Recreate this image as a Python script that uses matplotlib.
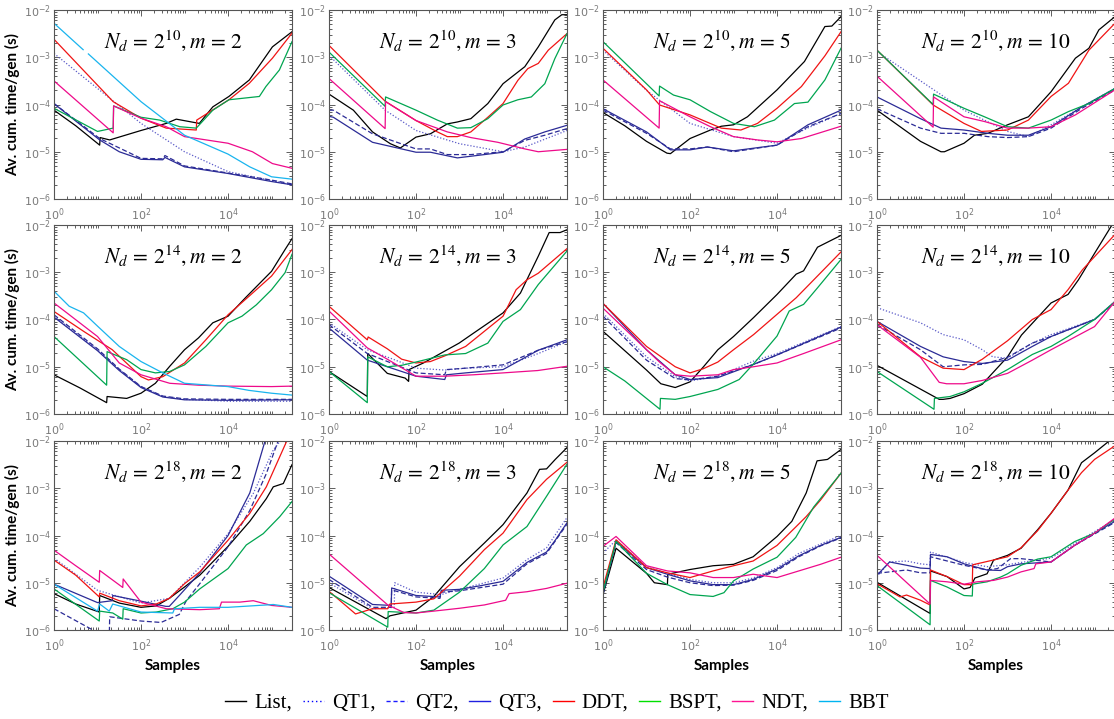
import numpy as np
import matplotlib
matplotlib.use("Agg")
import matplotlib.pyplot as plt
from matplotlib.ticker import LogLocator, NullFormatter, FixedLocator
from matplotlib.lines import Line2D

# ---------------- data (log10 of samples, log10 of seconds) ----------------
SERIES = ["List", "QT1", "QT2", "QT3", "DDT", "BSPT", "NDT", "BBT"]
ND_EXP = [10, 14, 18]
M_VALS = [2, 3, 5, 10]
nan = float("nan")

N10_M2 = {
    "List": ([0, 0.5, 1.05, 1.06, 1.28, 2, 2.58, 2.81, 3.34, 3.65, 4.02, 4.49, 5.02, 5.47],
             [-4.12, -4.45, -4.86, -4.70, -4.75, -4.55, -4.4, -4.31, -4.4, -4.05, -3.83, -3.48, -2.78, -2.46]),
    "QT1": ([0, 1, 2, 3, 4, 5.47], [-2.92, -3.66, -4.4, -5.0, -5.42, -5.7]),
    "QT2": ([0, 1.05, 2, 2.5, 2.55, 3, 4, 5, 5.47], [-3.98, -4.72, -5.14, -5.15, -5.08, -5.3, -5.45, -5.6, -5.68]),
    "QT3": ([0, 0.5, 1.05, 1.5, 2, 2.5, 2.55, 3, 4, 5, 5.47],
            [-3.98, -4.35, -4.75, -5.0, -5.16, -5.17, -5.12, -5.32, -5.46, -5.63, -5.7]),
    "DDT": ([0, 1.36, 2, 2.58, 3.27, 3.28, 4.02, 4.49, 5.02, 5.47],
            [-2.62, -3.94, -4.29, -4.5, -4.54, -4.33, -3.9, -3.55, -3.02, -2.49]),
    "BSPT": ([0, 1.0, 1.36, 1.37, 2, 2.43, 2.89, 3.27, 3.65, 4.02, 4.72, 4.87, 5.18, 5.47],
             [-4.08, -4.57, -4.5, -4.03, -4.27, -4.33, -4.47, -4.5, -4.12, -3.9, -3.83, -3.62, -3.27, -2.67]),
    "NDT": ([0, 1.36, 1.37, 2, 2.58, 3, 4, 4.56, 5.02, 5.47],
            [-3.5, -4.6, -4.03, -4.29, -4.47, -4.68, -4.82, -5.0, -5.25, -5.35]),
    "BBT": ([0, 0.67, 0.73, 0.79, 2, 3, 4, 4.5, 5, 5.47],
            [-2.28, -2.84, nan, -2.93, -3.94, -4.65, -5.05, -5.32, -5.53, -5.58]),
}

N10_M3 = {
    "List": ([0, 0.56, 1.0, 1.41, 1.64, 2, 2.33, 2.72, 2.95, 3.26, 3.65, 4.0, 4.5, 4.81, 5.19, 5.35, 5.47],
             [-3.78, -4.12, -4.58, -4.83, -4.92, -4.69, -4.62, -4.41, -4.37, -4.3, -3.98, -3.56, -3.2, -2.78, -2.21, -2.1, -2.1]),
    "QT1": ([0, 1.29, 2, 3, 4, 4.5, 5.47], [-2.96, -4.12, -4.55, -4.83, -5.0, -4.9, -4.55]),
    "QT2": ([0, 0.1, 1, 2, 2.33, 2.72, 3.26, 4, 4.5, 4.96, 5.47],
            [-4.12, -4.12, -4.62, -4.94, -4.94, -5.06, -5.06, -5.0, -4.76, -4.65, -4.51]),
    "QT3": ([0, 0.1, 1, 2, 2.33, 2.95, 3.57, 4, 4.5, 4.96, 5.47],
            [-4.25, -4.27, -4.8, -5.01, -5.01, -5.13, -5.06, -5.01, -4.73, -4.58, -4.44]),
    "DDT": ([0, 1.29, 2, 2.49, 2.72, 2.95, 3.26, 3.65, 4.0, 4.34, 4.57, 4.81, 5.04, 5.47],
            [-2.75, -3.93, -4.34, -4.58, -4.68, -4.68, -4.58, -4.27, -3.98, -3.49, -3.24, -3.13, -2.85, -2.5]),
    "BSPT": ([0, 1.29, 1.30, 2, 2.49, 2.95, 3.26, 3.65, 4.0, 4.34, 4.65, 4.96, 5.19, 5.47],
             [-2.89, -4.04, -3.84, -4.12, -4.33, -4.5, -4.49, -4.3, -4.01, -3.9, -3.84, -3.56, -3.03, -2.5]),
    "NDT": ([0, 1.29, 1.30, 2, 2.72, 3.26, 3.88, 4.5, 4.81, 5.47],
            [-3.45, -4.51, -3.94, -4.34, -4.58, -4.7, -4.8, -4.94, -5.0, -4.95]),
}

N10_M5 = {
    "List": ([0, 0.5, 1, 1.47, 1.55, 2, 2.47, 2.72, 3, 3.32, 4.0, 4.63, 5.1, 5.26, 5.47],
             [-4.17, -4.45, -4.78, -5.03, -5.04, -4.72, -4.54, -4.46, -4.43, -4.26, -3.69, -3.09, -2.35, -2.34, -2.14]),
    "QT1": ([0, 1, 2, 3, 4, 4.7, 5.47], [-2.85, -3.7, -4.4, -4.68, -4.82, -4.5, -4.19]),
    "QT2": ([0, 1, 1.55, 2, 2.4, 3, 4, 4.71, 5.47], [-4.12, -4.61, -4.94, -4.94, -4.9, -5.0, -4.86, -4.47, -4.19]),
    "QT3": ([0, 1, 1.55, 2, 2.4, 3, 4, 4.71, 5.47], [-4.09, -4.58, -4.96, -4.96, -4.9, -4.98, -4.86, -4.43, -4.12]),
    "DDT": ([0, 1, 1.3, 2, 2.72, 3.17, 3.55, 4.0, 4.56, 5.1, 5.47],
            [-2.81, -3.69, -4.01, -4.22, -4.5, -4.54, -4.4, -4.08, -3.62, -2.97, -2.46]),
    "BSPT": ([0, 1.29, 1.30, 1.62, 2, 2.47, 3, 3.48, 3.94, 4.4, 4.71, 5.1, 5.47],
             [-2.67, -3.82, -3.61, -3.8, -3.9, -4.15, -4.4, -4.47, -4.33, -3.98, -3.95, -3.48, -2.81]),
    "NDT": ([0, 1.29, 1.30, 2, 2.47, 3, 3.55, 4.0, 4.56, 5.47],
            [-3.48, -4.5, -3.92, -4.26, -4.47, -4.68, -4.75, -4.79, -4.72, -4.46]),
}

N10_M10 = {
    "List": ([0, 0.5, 1, 1.47, 1.55, 2, 2.24, 2.55, 3, 3.48, 4.0, 4.56, 4.87, 5.1, 5.47],
             [-4.12, -4.45, -4.78, -5.0, -5.0, -4.82, -4.65, -4.61, -4.43, -4.26, -3.73, -3.02, -2.81, -2.42, -2.14]),
    "QT1": ([0, 2, 3, 3.48, 4, 4.71, 5.47], [-2.88, -4.12, -4.57, -4.68, -4.43, -4.05, -3.66]),
    "QT2": ([0, 1, 1.47, 2, 2.55, 3, 3.48, 4, 4.71, 5.47],
            [-4.09, -4.5, -4.61, -4.61, -4.68, -4.7, -4.68, -4.5, -4.08, -3.69]),
    "QT3": ([0, 1, 1.47, 2, 2.55, 3, 3.48, 4, 4.71, 5.47],
            [-3.84, -4.3, -4.5, -4.54, -4.61, -4.65, -4.65, -4.47, -4.05, -3.66]),
    "DDT": ([0, 1.29, 2, 2.4, 3, 3.48, 4.0, 4.4, 4.87, 5.47],
            [-2.85, -4.01, -4.4, -4.57, -4.54, -4.33, -3.83, -3.55, -2.85, -2.28]),
    "BSPT": ([0, 1.29, 1.30, 2, 2.47, 3, 3.48, 4, 4.4, 4.87, 5.47],
             [-2.85, -4.0, -3.78, -4.08, -4.26, -4.47, -4.5, -4.33, -4.15, -3.98, -3.66]),
    "NDT": ([0, 1.29, 1.30, 2, 2.47, 3, 3.48, 4, 4.56, 5.47],
            [-3.4, -4.48, -3.84, -4.26, -4.36, -4.5, -4.5, -4.47, -4.22, -3.69]),
}

N14_M2 = {
    "List": ([0, 0.6, 1.21, 1.22, 1.67, 2, 2.33, 2.66, 3.0, 3.32, 3.65, 4.0, 4.4, 5.0, 5.31, 5.47],
             [-5.17, -5.45, -5.76, -5.63, -5.67, -5.56, -5.35, -4.99, -4.64, -4.39, -4.07, -3.93, -3.54, -2.98, -2.52, -2.29]),
    "QT1": ([0, 1, 1.5, 2, 2.5, 3, 4, 5.47], [-3.93, -4.64, -5.06, -5.42, -5.63, -5.69, -5.73, -5.73]),
    "QT2": ([0, 1, 1.5, 2, 2.5, 3, 4, 5.47], [-3.9, -4.62, -5.05, -5.42, -5.62, -5.68, -5.69, -5.69]),
    "QT3": ([0, 1, 1.5, 2, 2.5, 3, 4, 5.47], [-3.95, -4.66, -5.08, -5.44, -5.64, -5.7, -5.71, -5.7]),
    "DDT": ([0, 0.68, 1.34, 2, 2.17, 2.5, 3, 3.49, 4.0, 4.48, 5.0, 5.47],
            [-3.83, -4.25, -4.64, -5.21, -5.28, -5.21, -4.92, -4.43, -3.9, -3.51, -3.08, -2.52]),
    "BSPT": ([0, 1.21, 1.22, 1.67, 2, 2.33, 2.66, 3, 3.49, 4, 4.32, 4.65, 5.0, 5.31, 5.47],
             [-4.36, -5.39, -4.68, -4.85, -5.06, -5.13, -5.1, -4.96, -4.57, -4.07, -3.93, -3.69, -3.37, -3.01, -2.62]),
    "NDT": ([0, 1, 1.5, 2, 2.66, 3.32, 4, 5, 5.47], [-3.65, -4.36, -4.92, -5.17, -5.35, -5.39, -5.41, -5.42, -5.41]),
    "BBT": ([0, 0.35, 0.68, 1, 1.5, 2, 2.5, 3, 4, 4.48, 5, 5.47],
            [-3.4, -3.72, -3.86, -4.14, -4.57, -4.89, -5.13, -5.35, -5.42, -5.5, -5.56, -5.6]),
}

N14_M3 = {
    "List": ([0, 0.88, 0.89, 1.34, 1.75, 1.83, 1.84, 2.17, 2.58, 2.99, 3.32, 4.0, 4.4, 4.81, 5.06, 5.31, 5.47],
             [-5.1, -5.63, -4.72, -5.14, -5.24, -5.31, -5.06, -4.92, -4.71, -4.5, -4.29, -3.86, -3.44, -2.66, -2.16, -2.16, -2.1]),
    "QT1": ([0, 0.88, 1.5, 2, 2.66, 3.14, 4, 4.81, 5.47], [-4.07, -4.64, -4.85, -5.03, -5.07, -5.03, -5.0, -4.72, -4.47]),
    "QT2": ([0, 0.88, 2, 2.66, 2.7, 3.14, 4, 4.81, 5.47], [-4.11, -4.72, -5.13, -5.17, -5.06, -5.03, -4.96, -4.65, -4.47]),
    "QT3": ([0, 0.88, 2, 2.66, 2.7, 3.14, 4, 4.81, 5.47], [-4.18, -4.86, -5.2, -5.27, -5.17, -5.13, -5.06, -4.65, -4.43]),
    "DDT": ([0, 0.88, 0.9, 1.34, 1.67, 2, 2.33, 2.66, 3.14, 4, 4.3, 4.55, 4.81, 5.47],
            [-3.72, -4.43, -4.37, -4.62, -4.84, -4.92, -4.89, -4.77, -4.57, -3.93, -3.37, -3.16, -3.02, -2.5]),
    "BSPT": ([0, 0.88, 0.89, 1.34, 1.67, 2, 2.66, 3.14, 3.65, 4, 4.4, 4.81, 5.47],
             [-5.1, -5.76, -4.79, -5.0, -4.97, -4.9, -4.75, -4.72, -4.5, -4.04, -3.79, -3.26, -2.55]),
    "NDT": ([0, 0.88, 1.34, 2, 2.66, 3.32, 4, 4.8, 5.47], [-3.82, -4.6, -4.84, -5.2, -5.2, -5.17, -5.13, -5.08, -4.99]),
}

N14_M5 = {
    "List": ([0, 1, 1.33, 1.66, 2, 2.31, 2.64, 3, 3.46, 4, 4.44, 4.61, 4.93, 5.47],
             [-4.25, -5.07, -5.36, -5.44, -5.32, -5.0, -4.64, -4.36, -3.96, -3.47, -3.04, -2.97, -2.47, -2.22]),
    "QT1": ([0, 1, 1.66, 2, 2.64, 3.46, 4, 5.47], [-3.87, -4.79, -5.21, -5.3, -5.2, -4.88, -4.72, -4.15]),
    "QT2": ([0, 1, 1.66, 2, 2.64, 3.46, 4, 5.47], [-3.93, -4.86, -5.25, -5.28, -5.2, -4.95, -4.75, -4.18]),
    "QT3": ([0, 1, 1.66, 2, 2.64, 3.46, 4, 5.47], [-3.66, -4.64, -5.17, -5.27, -5.23, -4.95, -4.75, -4.16]),
    "DDT": ([0, 1, 1.66, 2, 2.31, 2.64, 3, 3.46, 4, 4.44, 4.77, 5.47],
            [-3.66, -4.57, -5.0, -5.13, -5.04, -4.9, -4.64, -4.32, -3.89, -3.54, -3.23, -2.57]),
    "BSPT": ([0, 0.5, 1.31, 1.32, 1.66, 2, 2.64, 3.13, 3.46, 4, 4.28, 4.61, 4.93, 5.47],
             [-5.0, -5.3, -5.9, -5.67, -5.69, -5.63, -5.48, -5.27, -4.94, -4.35, -3.82, -3.68, -3.33, -2.73]),
    "NDT": ([0, 1, 1.31, 1.66, 2, 2.64, 3, 3.46, 4, 4.61, 5.47],
            [-3.76, -4.64, -4.91, -5.17, -5.2, -5.17, -5.06, -5.0, -4.92, -4.72, -4.43]),
}

N14_M10 = {
    "List": ([0, 1.43, 1.52, 1.68, 2, 2.42, 3, 3.32, 4, 4.39, 4.63, 5.0, 5.4, 5.47],
             [-4.97, -5.69, -5.69, -5.67, -5.57, -5.37, -4.79, -4.33, -3.65, -3.47, -3.16, -2.6, -2.0, -1.95]),
    "QT1": ([0, 1, 1.52, 2, 2.42, 2.66, 3, 3.57, 4, 5, 5.47],
            [-3.75, -4.07, -4.32, -4.43, -4.64, -4.79, -4.82, -4.5, -4.32, -4.0, -3.62]),
    "QT2": ([0, 1, 1.52, 2, 2.42, 3, 3.57, 4, 5, 5.47], [-4.11, -4.64, -5.0, -4.96, -4.95, -4.8, -4.5, -4.36, -4.0, -3.64]),
    "QT3": ([0, 1, 1.52, 2, 2.42, 3, 3.57, 4, 5, 5.47], [-4.04, -4.57, -4.79, -4.89, -4.93, -4.86, -4.57, -4.36, -4.0, -3.62]),
    "DDT": ([0, 1, 1.52, 2, 2.42, 3, 3.57, 4, 4.39, 4.72, 5.47],
            [-4.04, -4.79, -5.03, -5.06, -4.84, -4.45, -4.0, -3.79, -3.37, -2.95, -2.2]),
    "BSPT": ([0, 1.31, 1.32, 1.68, 2, 2.42, 3, 3.57, 4, 4.39, 5.0, 5.47],
             [-5.1, -5.9, -5.67, -5.63, -5.53, -5.35, -5.06, -4.74, -4.57, -4.36, -4.0, -3.62]),
    "NDT": ([0, 1, 1.43, 1.6, 2, 2.42, 3, 3.57, 4, 5.0, 5.47],
            [-4.11, -4.8, -5.33, -5.36, -5.36, -5.29, -5.14, -4.86, -4.64, -4.15, -3.62]),
}

N18_M2 = {
    "List": ([0, 0.5, 1.04, 1.05, 1.5, 2, 2.35, 2.65, 3, 3.35, 4, 4.5, 4.88, 5.04, 5.27, 5.47],
             [-5.23, -5.45, -5.62, -5.27, -5.43, -5.52, -5.49, -5.33, -5.09, -4.84, -4.23, -3.7, -3.22, -2.97, -2.9, -2.5]),
    "QT1": ([0, 1.0, 2, 2.65, 3.35, 4, 4.58, 5.04, 5.2, 5.3], [-4.48, -5.16, -5.43, -5.33, -4.67, -3.96, -3.11, -2.19, -2.0, -1.8]),
    "QT2": ([0, 1.05, 1.27, 1.28, 2, 2.46, 2.88, 3.04, 3.35, 4, 4.5, 4.88, 5.15, 5.3],
            [-5.55, -6.08, -6.15, -5.72, -5.81, -5.84, -5.67, -5.38, -5.02, -4.24, -3.47, -2.69, -2.0, -1.7]),
    "QT3": ([0, 1.0, 1.34, 1.35, 2, 2.57, 2.65, 2.88, 3.35, 4, 4.5, 4.85, 5.0],
            [-5.03, -5.42, -5.38, -5.27, -5.39, -5.5, -5.5, -5.27, -4.79, -4.0, -3.1, -2.0, -1.7]),
    "DDT": ([0, 0.5, 1.04, 1.05, 1.5, 2, 2.35, 2.65, 3, 3.35, 4, 4.5, 4.88, 5.19, 5.35, 5.47],
            [-4.52, -4.84, -5.3, -5.22, -5.38, -5.49, -5.45, -5.33, -5.02, -4.77, -4.1, -3.53, -2.97, -2.33, -2.0, -1.8]),
    "BSPT": ([0, 1.04, 1.05, 1.35, 1.58, 1.59, 2, 2.35, 2.73, 3, 3.35, 4, 4.42, 4.81, 5.19, 5.47],
             [-5.13, -5.81, -5.6, -5.64, -5.77, -5.55, -5.64, -5.62, -5.55, -5.41, -5.13, -4.7, -4.2, -3.96, -3.6, -3.28]),
    "NDT": ([0, 0.5, 1.04, 1.05, 1.58, 1.59, 2, 2.58, 3.35, 3.8, 3.85, 4.27, 4.58, 5.0, 5.47],
            [-4.31, -4.64, -4.99, -4.74, -5.1, -4.92, -5.41, -5.55, -5.57, -5.55, -5.41, -5.41, -5.38, -5.48, -5.52]),
    "BBT": ([0, 1.0, 1.05, 1.27, 1.35, 2, 2.73, 2.77, 3.35, 4, 4.88, 5.04, 5.47],
            [-5.03, -5.6, -5.45, -5.6, -5.45, -5.62, -5.64, -5.55, -5.52, -5.52, -5.47, -5.46, -5.52]),
}

N18_M3 = {
    "List": ([0, 1.31, 1.4, 2, 2.41, 3, 3.57, 4, 4.55, 4.84, 5, 5.2, 5.47],
             [-5.1, -5.76, -5.7, -5.58, -5.29, -4.66, -4.16, -3.77, -3.1, -2.6, -2.59, -2.39, -2.14]),
    "QT1": ([0, 1, 1.5, 1.51, 2, 2.58, 3, 4, 4.55, 5, 5.47], [-5.0, -5.55, -5.52, -5.0, -5.2, -5.25, -5.14, -4.9, -4.51, -4.26, -3.62]),
    "QT2": ([0, 1, 1.43, 1.44, 2, 2.55, 2.58, 3, 4, 4.55, 5, 5.47],
            [-4.93, -5.52, -5.52, -5.15, -5.3, -5.33, -5.2, -5.17, -5.03, -4.6, -4.38, -3.76]),
    "QT3": ([0, 1, 1.43, 1.44, 2, 2.55, 2.58, 3, 3.5, 4, 4.55, 5, 5.2, 5.47],
            [-4.86, -5.46, -5.48, -5.11, -5.27, -5.3, -5.16, -5.14, -5.06, -4.97, -4.57, -4.35, -4.1, -3.73]),
    "DDT": ([0, 0.61, 1.0, 1.35, 1.4, 2, 2.41, 3, 3.57, 4, 4.55, 5, 5.47],
            [-5.18, -5.66, -5.55, -5.55, -5.45, -5.41, -5.34, -4.86, -4.3, -3.95, -3.24, -2.81, -2.45]),
    "BSPT": ([0, 1.35, 1.36, 2, 2.41, 3, 3.57, 4, 4.55, 5, 5.47],
             [-5.21, -5.94, -5.61, -5.64, -5.58, -5.2, -4.7, -4.2, -3.81, -3.17, -2.49]),
    "NDT": ([0, 1.35, 1.72, 2, 2.41, 3, 3.57, 4.06, 4.14, 4.55, 5, 5.47],
            [-4.39, -5.47, -5.63, -5.64, -5.6, -5.54, -5.47, -5.37, -5.23, -5.19, -5.12, -5.01]),
}

N18_M5 = {
    "List": ([0, 0.3, 1, 1.18, 1.48, 1.49, 2, 2.53, 3, 3.45, 4, 4.34, 4.67, 4.92, 5.16, 5.47],
             [-5.25, -4.27, -4.8, -5.0, -5.04, -4.82, -4.72, -4.64, -4.61, -4.45, -4.02, -3.7, -3.1, -2.42, -2.39, -2.18]),
    "QT1": ([0, 0.3, 1, 1.48, 2, 2.53, 3, 3.45, 4, 4.5, 5, 5.47],
            [-4.37, -4.1, -4.66, -4.8, -4.93, -5.0, -5.0, -4.9, -4.68, -4.38, -4.18, -4.0]),
    "QT2": ([0, 0.3, 1, 1.48, 2, 2.53, 3, 3.45, 4, 4.5, 5, 5.47],
            [-5.25, -4.15, -4.72, -4.88, -5.0, -5.06, -5.05, -4.95, -4.74, -4.45, -4.22, -4.05]),
    "QT3": ([0, 0.3, 1, 1.48, 2, 2.53, 3, 3.45, 4, 4.5, 5, 5.47],
            [-5.2, -4.12, -4.68, -4.82, -4.96, -5.04, -5.04, -4.93, -4.71, -4.43, -4.21, -4.04]),
    "DDT": ([0, 0.3, 1, 1.48, 2, 2.53, 3, 3.45, 4, 4.43, 4.67, 5, 5.47],
            [-5.1, -4.09, -4.68, -4.79, -4.89, -4.75, -4.64, -4.54, -4.21, -3.82, -3.6, -3.25, -2.68]),
    "BSPT": ([0, 0.3, 1, 1.48, 2, 2.53, 2.78, 3, 3.45, 4, 4.43, 4.84, 5.47],
             [-5.2, -4.12, -4.8, -5.04, -5.25, -5.29, -5.21, -4.96, -4.71, -4.46, -4.04, -3.4, -2.68]),
    "NDT": ([0, 0.3, 1, 1.48, 2, 2.53, 3, 3.45, 4, 4.5, 5, 5.47],
            [-4.23, -4.02, -4.64, -4.75, -4.79, -4.89, -4.89, -4.82, -4.89, -4.75, -4.61, -4.46]),
}

N18_M10 = {
    "List": ([0, 1.22, 1.23, 1.61, 2, 2.14, 2.25, 2.53, 2.68, 3, 3.31, 3.69, 4, 4.39, 4.7, 5, 5.47],
             [-4.99, -5.65, -4.75, -4.87, -5.13, -5.1, -4.9, -4.81, -4.52, -4.42, -4.27, -3.88, -3.53, -3.04, -2.46, -2.25, -1.9]),
    "QT1": ([0, 0.29, 0.68, 1, 1.22, 1.23, 2, 2.53, 3, 3.31, 4, 4.54, 5.47],
            [-4.87, -4.56, -4.54, -4.6, -4.62, -4.35, -4.57, -4.66, -4.62, -4.57, -4.48, -4.17, -3.66]),
    "QT2": ([0, 0.68, 1, 1.22, 1.23, 2, 2.53, 2.77, 3.07, 3.31, 4, 4.54, 5.47],
            [-4.8, -4.73, -4.79, -4.79, -4.45, -4.63, -4.73, -4.7, -4.49, -4.49, -4.56, -4.21, -3.72]),
    "QT3": ([0, 0.29, 0.68, 1, 1.22, 1.23, 1.61, 2, 2.53, 2.84, 3, 3.31, 4, 4.54, 5, 5.47],
            [-4.84, -4.56, -4.63, -4.69, -4.7, -4.4, -4.45, -4.6, -4.73, -4.74, -4.66, -4.6, -4.56, -4.21, -3.95, -3.7]),
    "DDT": ([0, 0.53, 0.68, 1, 1.22, 1.23, 1.61, 2, 2.19, 2.2, 2.53, 3, 3.31, 3.69, 4, 4.39, 4.7, 5, 5.47],
            [-5.02, -5.3, -5.26, -5.37, -5.47, -4.73, -4.87, -5.04, -5.04, -4.62, -4.55, -4.45, -4.26, -3.9, -3.53, -3.04, -2.67, -2.39, -2.1]),
    "BSPT": ([0, 1.22, 1.23, 1.61, 2, 2.19, 2.2, 2.53, 2.84, 3, 3.31, 3.69, 4, 4.54, 5, 5.47],
             [-5.06, -5.89, -4.95, -5.09, -5.27, -5.28, -5.03, -4.98, -4.88, -4.81, -4.63, -4.5, -4.45, -4.13, -3.95, -3.65]),
    "NDT": ([0, 1.22, 1.23, 1.61, 2, 2.3, 2.68, 3, 3.31, 3.61, 3.65, 4, 4.54, 5, 5.47],
            [-4.42, -5.45, -4.95, -4.98, -5.03, -4.98, -4.95, -4.88, -4.77, -4.7, -4.6, -4.56, -4.21, -3.95, -3.63]),
}

PANELS = [[N10_M2, N10_M3, N10_M5, N10_M10],
          [N14_M2, N14_M3, N14_M5, N14_M10],
          [N18_M2, N18_M3, N18_M5, N18_M10]]

# ---------------- styles ----------------
PLOT_STYLE = {
    "List": dict(color="#000000", ls="-"),
    "QT1": dict(color="#5a5ac8", ls=(0, (1, 1.5))),
    "QT2": dict(color="#2b2b96", ls=(0, (4, 2))),
    "QT3": dict(color="#2b2b96", ls="-"),
    "DDT": dict(color="#f01414", ls="-"),
    "BSPT": dict(color="#00a550", ls="-"),
    "NDT": dict(color="#ee0a8a", ls="-"),
    "BBT": dict(color="#19b4ee", ls="-"),
}
LEG_STYLE = {
    "List": dict(color="#000000", ls="-"),
    "QT1": dict(color="#0000ff", ls=(0, (1, 2))),
    "QT2": dict(color="#1a1aff", ls=(0, (3, 2))),
    "QT3": dict(color="#2020e0", ls="-"),
    "DDT": dict(color="#ff0000", ls="-"),
    "BSPT": dict(color="#00e000", ls="-"),
    "NDT": dict(color="#ff1493", ls="-"),
    "BBT": dict(color="#00b4f0", ls="-"),
}

plt.rcParams["mathtext.fontset"] = "stix"

FW, FH = 1114, 719
fig = plt.figure(figsize=(FW / 100, FH / 100), dpi=100)
lefts = [54, 329, 603, 877]
tops = [10, 225, 441]
pw, ph = 238, 189
TICKC = "#7a7a7a"

for i in range(3):
    for j in range(4):
        ax = fig.add_axes([lefts[j] / FW, 1 - (tops[i] + ph) / FH, pw / FW, ph / FH])
        panel = PANELS[i][j]
        for name in SERIES:
            if name not in panel:
                continue
            xs, ys = panel[name]
            ax.plot(10 ** np.array(xs, dtype=float), 10 ** np.array(ys, dtype=float),
                    lw=0.9, **PLOT_STYLE[name])
        ax.set_xscale("log")
        ax.set_yscale("log")
        ax.set_xlim(1, 10 ** 5.47)
        ax.set_ylim(1e-6, 1e-2)
        ax.xaxis.set_major_locator(FixedLocator([1, 1e2, 1e4]))
        ax.xaxis.set_minor_locator(LogLocator(base=10, subs=np.arange(1, 10), numticks=100))
        ax.xaxis.set_minor_formatter(NullFormatter())
        ax.yaxis.set_major_locator(FixedLocator([1e-6, 1e-5, 1e-4, 1e-3, 1e-2]))
        ax.yaxis.set_minor_locator(LogLocator(base=10, subs=np.arange(2, 10), numticks=100))
        ax.yaxis.set_minor_formatter(NullFormatter())
        ax.tick_params(which="both", direction="in", top=True, right=True,
                       color="#444444", labelcolor=TICKC, labelsize=8, width=0.6)
        ax.tick_params(axis="x", which="major", length=4, pad=5)
        ax.tick_params(axis="y", which="major", length=4, pad=2)
        ax.tick_params(which="minor", length=2)
        for s in ax.spines.values():
            s.set_color("#555555")
            s.set_linewidth(0.8)
        ax.text(0.5, 0.84, r"$N_d\,=\,2^{%d}, m\,=\,%d$" % (ND_EXP[i], M_VALS[j]),
                transform=ax.transAxes, ha="center", va="center", fontsize=15.5)
        if j == 0:
            ax.set_ylabel("Av. cum. time/gen (s)", fontsize=11, fontweight="bold",
                          family="Lato", labelpad=3)
        if i == 2:
            ax.set_xlabel("Samples", fontsize=11, fontweight="bold", family="Lato", labelpad=4)

handles = [Line2D([], [], lw=1.0, **LEG_STYLE[n]) for n in SERIES]
labels = [n + "," for n in SERIES[:-1]] + [SERIES[-1]]
fig.legend(handles, labels, loc="center", bbox_to_anchor=(0.5, 0.022), ncol=8,
           frameon=False, prop={"family": "Liberation Serif", "size": 15},
           handlelength=1.0, handletextpad=0.4, columnspacing=0.5)

fig.savefig("out.png", dpi=100)
